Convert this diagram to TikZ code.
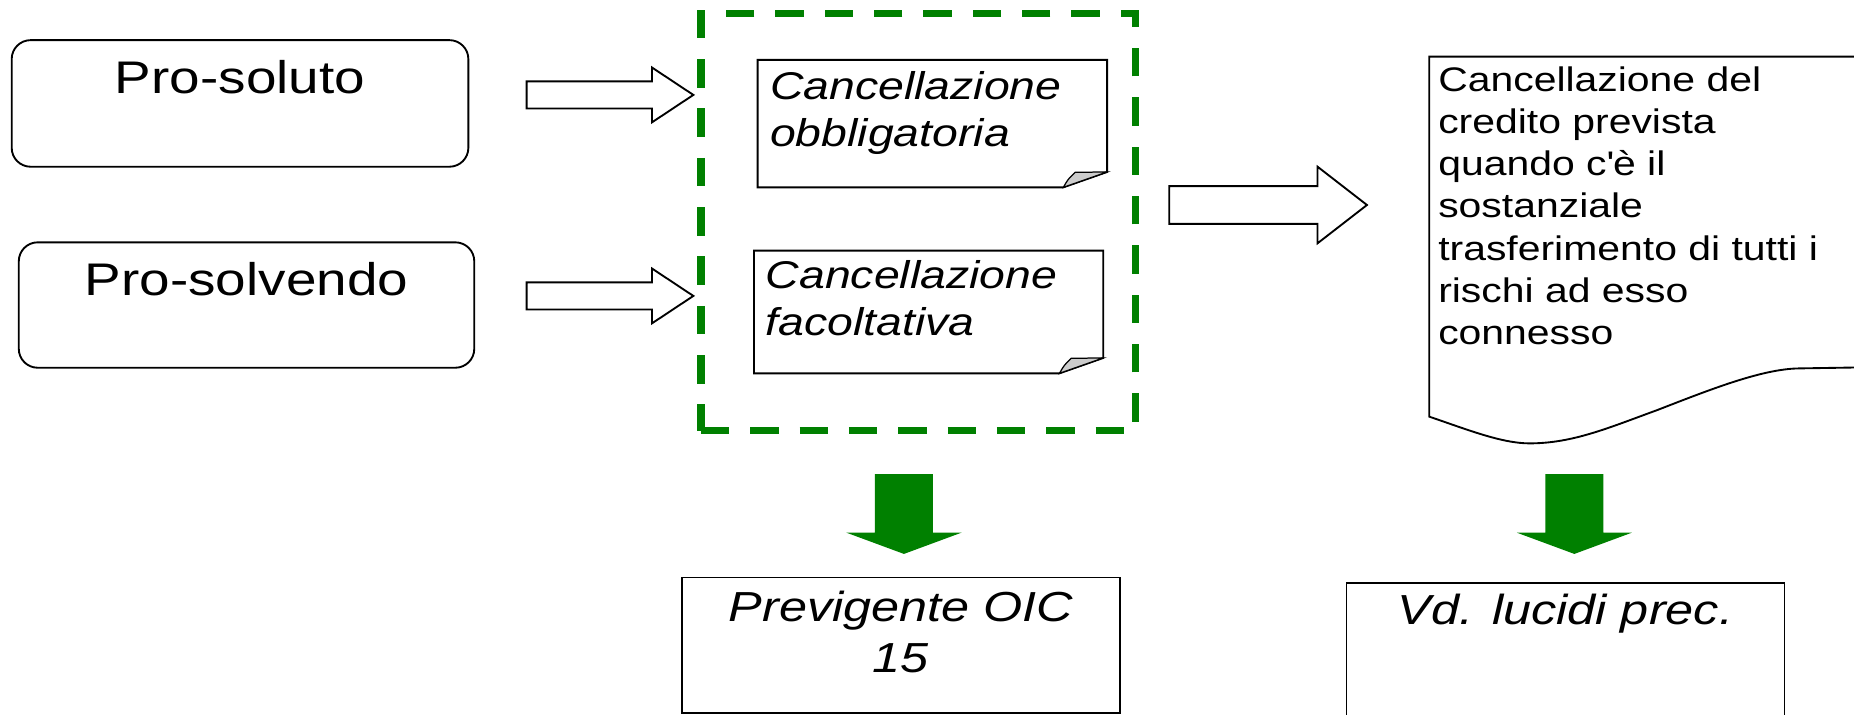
\documentclass[tikz,border=0pt]{standalone}
\usepackage{fontspec}
\setmainfont[FakeStretch=1.2]{Liberation Sans}
\usetikzlibrary{positioning}

\definecolor{oicgreen}{RGB}{0,128,0}
\definecolor{foldgray}{RGB}{204,204,204}

\tikzset{
  probox/.style={draw, line width=0.45pt, rounded corners=0.16cm, inner sep=0pt, outer sep=0pt},
  plainbox/.style={draw, line width=0.45pt, inner sep=0pt, outer sep=0pt},
  notebox/.style={inner sep=0pt, outer sep=0pt},
  noteline/.style={draw, line width=0.45pt},
  fold/.style={draw, fill=foldgray, line width=0.3pt},
  groupbox/.style={draw=oicgreen, line width=0.062cm, dash pattern=on 0.24cm off 0.177cm, inner sep=0pt},
  hollow/.style={draw, fill=white, line width=0.45pt},
  greenarrow/.style={fill=oicgreen},
  docline/.style={draw, line width=0.45pt},
  protext/.style={inner sep=0pt, font=\fontsize{11}{13}\selectfont},
  notetext/.style={inner sep=0pt, align=left, font=\fontsize{9.3}{11.2}\selectfont\itshape},
  doctext/.style={inner sep=0pt, align=left, font=\fontsize{8.2}{10.16}\selectfont},
  bottomtext/.style={inner sep=0pt, align=center, font=\fontsize{10.1}{12.4}\selectfont\itshape}
}

% hollow arrow pointing right: from, to, half shaft, half head, head length, style
\newcommand{\rightblock}[6]{%
  \path[#6] ([shift={(0,#3)}]#1) -- ([shift={(-#5,#3)}]#2) -- ([shift={(-#5,#4)}]#2) -- (#2)
    -- ([shift={(-#5,-#4)}]#2) -- ([shift={(-#5,-#3)}]#2) -- ([shift={(0,-#3)}]#1) -- cycle;}
% solid arrow pointing down
\newcommand{\downblock}[6]{%
  \path[#6] ([shift={(-#3,0)}]#1) -- ([shift={(-#3,#5)}]#2) -- ([shift={(-#4,#5)}]#2) -- (#2)
    -- ([shift={(#4,#5)}]#2) -- ([shift={(#3,#5)}]#2) -- ([shift={(#3,0)}]#1) -- cycle;}
% note with folded corner
\newcommand{\foldednote}[1]{%
  \draw[noteline] (#1.north west) -- (#1.north east) -- ([yshift=0.13cm]#1.south east)
    -- ([xshift=-0.37cm]#1.south east) -- (#1.south west) -- cycle;
  \filldraw[fold] ([xshift=-0.37cm]#1.south east) .. controls ([shift={(-0.33cm,0.07cm)}]#1.south east)
    .. ([shift={(-0.27cm,0.127cm)}]#1.south east) -- ([yshift=0.13cm]#1.south east) -- cycle;}

\begin{document}
\begin{tikzpicture}[x=0.01cm, y=0.01cm]
  \useasboundingbox (0,0) rectangle (1568,604);
  \clip (0,0) rectangle (1568,604);

  % left column
  \node[probox, minimum width=3.86cm, minimum height=1.07cm] (soluto) at (203,516.5) {};
  \node[protext, anchor=north] (solutotxt) at ([yshift=-0.164cm]soluto.north) {Pro-soluto};
  \node[probox, minimum width=3.85cm, minimum height=1.06cm] (solvendo) at (208.5,346) {};
  \node[protext, anchor=north] (solvendotxt) at ([yshift=-0.163cm]solvendo.north) {Pro-solvendo};

  % dashed group with the two notes
  \node[groupbox, minimum width=3.676cm, minimum height=3.524cm] (gruppo) at (776.7,416) {};
  \node[notebox, minimum width=2.954cm, minimum height=1.077cm, anchor=north west] (obblig) at (640.8,553.3) {};
  \foldednote{obblig}
  \node[notetext, anchor=north west] (obbligtxt) at ([shift={(9.8,-9.1)}]obblig.north west) {Cancellazione\\obbligatoria};
  \node[notebox, minimum width=2.952cm, minimum height=1.037cm, anchor=north west] (facolt) at (637.7,392) {};
  \foldednote{facolt}
  \node[notetext, anchor=north west] (facolttxt) at ([shift={(9.3,-7.6)}]facolt.north west) {Cancellazione\\facoltativa};

  % document on the right
  \draw[docline] (1208.8,251.6) -- (1208.8,556.1) -- (1620,556.1) -- (1620,294) -- (1521.4,292.4)
    .. controls (1490,292) and (1445,274) .. (1401.7,257.2)
    .. controls (1360,242) and (1330,229) .. (1293.5,229)
    .. controls (1270,229) and (1240,241) .. (1208.8,251.6) -- cycle;
  \node[doctext, anchor=north west] (credito) at (1215.7,548.5) {Cancellazione del\\credito prevista\\quando c\textquotesingle è il\\sostanziale\\trasferimento di tutti i\\rischi ad esso\\connesso};

  % bottom boxes
  \node[plainbox, minimum width=3.70cm, minimum height=1.145cm] (previg) at (762,58.25) {};
  \node[bottomtext, anchor=north] (previgtxt) at ([yshift=-0.106cm]previg.north) {Previgente OIC\\15};
  \node[plainbox, minimum width=3.703cm, minimum height=1.312cm] (lucidi) at (1324,45.6) {};
  \node[bottomtext, anchor=north] (lucidtxt) at ([yshift=-0.09cm]lucidi.north) {Vd. lucidi prec.};

  % arrows
  \coordinate (a1s) at (445.4,523.7);  \coordinate (a1e) at (586.4,523.7);
  \coordinate (a2s) at (445.4,353.7);  \coordinate (a2e) at (586.4,353.7);
  \coordinate (a3s) at (988.9,430.6);  \coordinate (a3e) at (1156.1,430.6);
  \coordinate (g1s) at (764.5,203.1);  \coordinate (g1e) at (764.5,135.5);
  \coordinate (g2s) at (1331.5,203.1); \coordinate (g2e) at (1331.5,135.5);
  \rightblock{a1s}{a1e}{11.5}{23.2}{35}{hollow}
  \rightblock{a2s}{a2e}{11.5}{23.2}{35}{hollow}
  \rightblock{a3s}{a3e}{16}{32.4}{41.8}{hollow}
  \downblock{g1s}{g1e}{24.5}{48.7}{18}{greenarrow}
  \downblock{g2s}{g2e}{24.5}{48.7}{18}{greenarrow}
\end{tikzpicture}
\end{document}
